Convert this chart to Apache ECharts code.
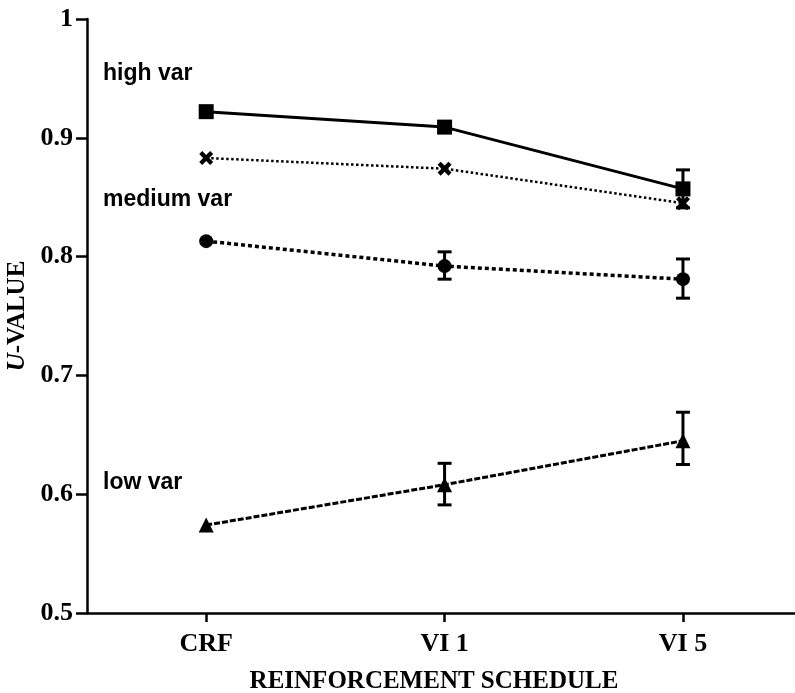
<!DOCTYPE html>
<html>
<head>
<meta charset="utf-8">
<script src="https://cdn.jsdelivr.net/npm/echarts@6/dist/echarts.min.js"></script>
<style>html,body{margin:0;padding:0;background:#fff}#c{width:795px;height:693px}</style>
</head>
<body>
<div id="c"></div>
<script>
const categories = ['CRF', 'VI 1', 'VI 5'];
const highVarSquare = [0.922, 0.909, 0.857];
const highVarCross = [0.883, 0.874, 0.845];
const mediumVar = [0.813, 0.792, 0.781];
const lowVar = [0.574, 0.608, 0.645];
const highSquareErrLo = [null, null, 0.841];
const highSquareErrHi = [null, null, 0.873];
const mediumErrLo = [null, 0.781, 0.765];
const mediumErrHi = [null, 0.804, 0.798];
const lowErrLo = [null, 0.591, 0.625];
const lowErrHi = [null, 0.626, 0.669];
const groupLabels = ['high var', 'medium var', 'low var'];

const serif = '"Liberation Serif", "Times New Roman", serif';
const sans = '"Liberation Sans", Arial, sans-serif';

function pts(arr) { return arr.map((v, i) => [i + 1, v]); }
function errs(lo, hi) {
  const out = [];
  lo.forEach((l, i) => { if (l != null) out.push([i + 1, l, hi[i]]); });
  return out;
}
function errSeries(lo, hi) {
  return {
    type: 'custom', z: 1, silent: true,
    data: errs(lo, hi),
    renderItem: function (params, api) {
      const x = api.value(0);
      const pl = api.coord([x, api.value(1)]);
      const ph = api.coord([x, api.value(2)]);
      const w = 7;
      const st = { stroke: '#000', lineWidth: 3 };
      return { type: 'group', children: [
        { type: 'line', shape: { x1: pl[0], y1: pl[1], x2: ph[0], y2: ph[1] }, style: st },
        { type: 'line', shape: { x1: pl[0] - w, y1: pl[1], x2: pl[0] + w, y2: pl[1] }, style: st },
        { type: 'line', shape: { x1: ph[0] - w, y1: ph[1], x2: ph[0] + w, y2: ph[1] }, style: st }
      ]};
    }
  };
}
const crossPath = 'path://M0,2.2 L2.2,0 L5,2.8 L7.8,0 L10,2.2 L7.2,5 L10,7.8 L7.8,10 L5,7.2 L2.2,10 L0,7.8 L2.8,5 Z';

function lineSeries(data, symbol, size, lineType, width) {
  return {
    type: 'line', z: 3, data: pts(data), symbol: symbol, symbolSize: size,
    showAllSymbol: true, silent: true,
    itemStyle: { color: '#000', opacity: 1 },
    lineStyle: { color: '#000', width: width, type: lineType }
  };
}

const chart = echarts.init(document.getElementById('c'), null, { renderer: 'canvas' });
chart.setOption({
  animation: false,
  backgroundColor: '#fff',
  grid: { left: 87, right: 0, top: 19, bottom: 80, outerBoundsMode: 'none', containLabel: false },
  xAxis: {
    type: 'value', min: 0.5, max: 3.47,
    name: 'REINFORCEMENT SCHEDULE', nameLocation: 'middle', nameGap: 56,
    nameTextStyle: { fontFamily: serif, fontWeight: 'bold', fontSize: 25, color: '#000', padding: [0, 14, 0, 0] },
    axisLine: { lineStyle: { color: '#000', width: 2.5 } },
    axisTick: { customValues: [1, 2, 3], length: 9, lineStyle: { color: '#000', width: 2.5 } },
    axisLabel: { customValues: [1, 2, 3], formatter: v => categories[Math.round(v) - 1],
      fontFamily: serif, fontWeight: 'bold', fontSize: 26, color: '#000', margin: 18 },
    splitLine: { show: false }
  },
  yAxis: {
    type: 'value', min: 0.5, max: 1, interval: 0.1,
    name: '{i|U}-VALUE', nameLocation: 'middle', nameGap: 56,
    nameTextStyle: { fontFamily: serif, fontWeight: 'bold', fontSize: 25, color: '#000',
      rich: { i: { fontFamily: serif, fontWeight: 'bold', fontStyle: 'italic', fontSize: 25, color: '#000' } } },
    axisLine: { show: true, lineStyle: { color: '#000', width: 2.5 } },
    axisTick: { show: true, length: 11, lineStyle: { color: '#000', width: 2.5 } },
    axisLabel: { formatter: v => (Math.abs(v - 1) < 1e-9 ? '1' : v.toFixed(1)),
      fontFamily: serif, fontWeight: 'bold', fontSize: 26, color: '#000', margin: 14 },
    splitLine: { show: false }
  },
  graphic: [
    { type: 'text', left: 103, top: 62, style: { text: groupLabels[0], font: 'bold 23px ' + sans, fill: '#000' } },
    { type: 'text', left: 103, top: 188, style: { text: groupLabels[1], font: 'bold 23px ' + sans, fill: '#000' } },
    { type: 'text', left: 103, top: 471, style: { text: groupLabels[2], font: 'bold 23px ' + sans, fill: '#000' } }
  ],
  series: [
    errSeries(highSquareErrLo, highSquareErrHi),
    errSeries(mediumErrLo, mediumErrHi),
    errSeries(lowErrLo, lowErrHi),
    lineSeries(highVarSquare, 'rect', 15, 'solid', 3),
    lineSeries(highVarCross, crossPath, 14, 'dotted', 2.5),
    lineSeries(mediumVar, 'circle', 14, [4, 3], 3.5),
    lineSeries(lowVar, 'triangle', 15, [6, 2], 3)
  ]
});
</script>
</body>
</html>
